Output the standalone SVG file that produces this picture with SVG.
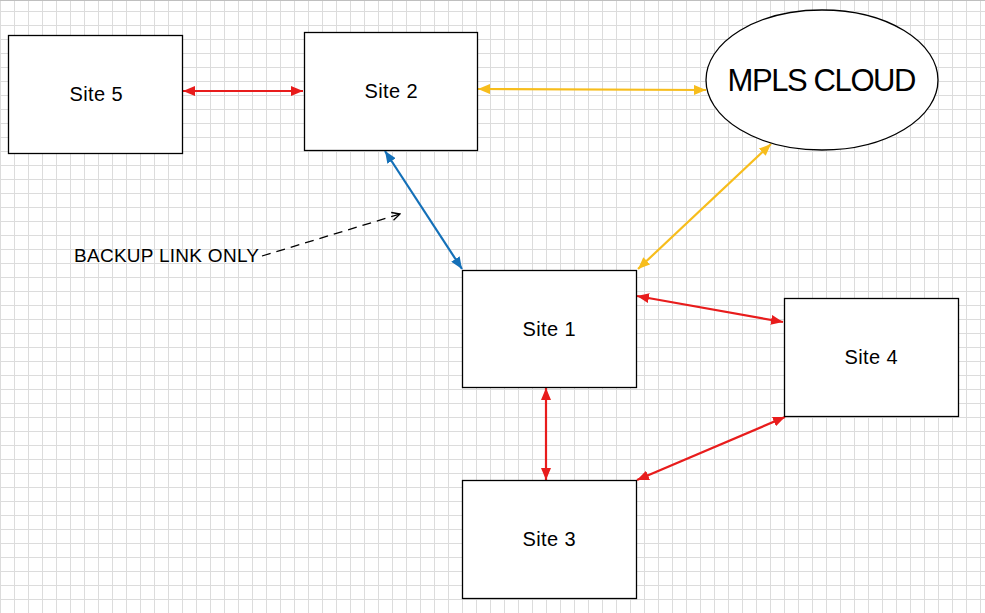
<svg xmlns="http://www.w3.org/2000/svg" width="985" height="613" viewBox="0 0 985 613">
<defs>
<pattern id="grid" x="0" y="11" width="14" height="14" patternUnits="userSpaceOnUse">
<path d="M0.5 0V14M0 0.5H14" fill="none" stroke="#dcdcdc" stroke-width="1"/>
</pattern>
<marker id="aR" viewBox="0 0 12 10" refX="12" refY="5" markerWidth="12" markerHeight="10" markerUnits="userSpaceOnUse" orient="auto-start-reverse"><path d="M0 0L12 5L0 10Z" fill="#e81c1c"/></marker>
<marker id="aY" viewBox="0 0 12 10" refX="12" refY="5" markerWidth="12" markerHeight="10" markerUnits="userSpaceOnUse" orient="auto-start-reverse"><path d="M0 0L12 5L0 10Z" fill="#f7bd1c"/></marker>
<marker id="aB" viewBox="0 0 12 10" refX="12" refY="5" markerWidth="12" markerHeight="10" markerUnits="userSpaceOnUse" orient="auto-start-reverse"><path d="M0 0L12 5L0 10Z" fill="#1470b8"/></marker>
<marker id="aO" viewBox="0 0 10 10" refX="9" refY="5" markerWidth="10" markerHeight="10" markerUnits="userSpaceOnUse" orient="auto"><path d="M1 1L9 5L1 9" fill="none" stroke="#000" stroke-width="1.3"/></marker>
</defs>
<style>
.box{fill:#fff;stroke:#000;stroke-width:1.3}
.lbl{font-family:"Liberation Sans",Arial,sans-serif;font-size:20px;fill:#000;text-anchor:middle;dominant-baseline:central}
.red{stroke:#e81c1c;stroke-width:2.2;fill:none;marker-start:url(#aR);marker-end:url(#aR)}
.yel{stroke:#f7bd1c;stroke-width:2.2;fill:none;marker-start:url(#aY);marker-end:url(#aY)}
.blu{stroke:#1470b8;stroke-width:2.2;fill:none;marker-start:url(#aB);marker-end:url(#aB)}
</style>
<rect width="985" height="613" fill="#fff"/>
<rect width="985" height="613" fill="url(#grid)"/>
<line x1="0" y1="0.5" x2="985" y2="0.5" stroke="#bfbfbf"/>
<g id="connectors">
<line class="red" x1="183" y1="91" x2="303" y2="91"/>
<line class="yel" x1="478" y1="89" x2="706" y2="90"/>
<line class="blu" x1="385" y1="151" x2="462" y2="269"/>
<line class="yel" x1="638" y1="269" x2="771" y2="144"/>
<line class="red" x1="637" y1="296" x2="783" y2="322"/>
<line class="red" x1="546" y1="388" x2="546" y2="480"/>
<line class="red" x1="637" y1="480" x2="785" y2="417"/>
<line x1="262" y1="256" x2="400" y2="214" stroke="#000" stroke-width="1.3" stroke-dasharray="9 6" marker-end="url(#aO)"/>
</g>
<g id="site5"><rect class="box" x="8.5" y="35.5" width="174" height="118"/><text class="lbl" x="96" y="94" textLength="53">Site 5</text></g>
<g id="site2"><rect class="box" x="304.5" y="32.5" width="173" height="118"/><text class="lbl" x="391" y="91" textLength="53">Site 2</text></g>
<g id="mpls"><ellipse class="box" cx="822" cy="80" rx="116" ry="70"/><text class="lbl" x="822" y="80" style="font-size:31px" textLength="189">MPLS CLOUD</text></g>
<g id="site1"><rect class="box" x="462.5" y="270.5" width="174" height="117"/><text class="lbl" x="549" y="329" textLength="53">Site 1</text></g>
<g id="site4"><rect class="box" x="784.5" y="298.5" width="174" height="118"/><text class="lbl" x="871" y="357" textLength="53">Site 4</text></g>
<g id="site3"><rect class="box" x="462.5" y="480.5" width="174" height="118"/><text class="lbl" x="549" y="539" textLength="53">Site 3</text></g>
<g id="note"><text x="74" y="262" textLength="185" style="font-family:'Liberation Sans',Arial,sans-serif;font-size:19px;fill:#000">BACKUP LINK ONLY</text></g>
</svg>
